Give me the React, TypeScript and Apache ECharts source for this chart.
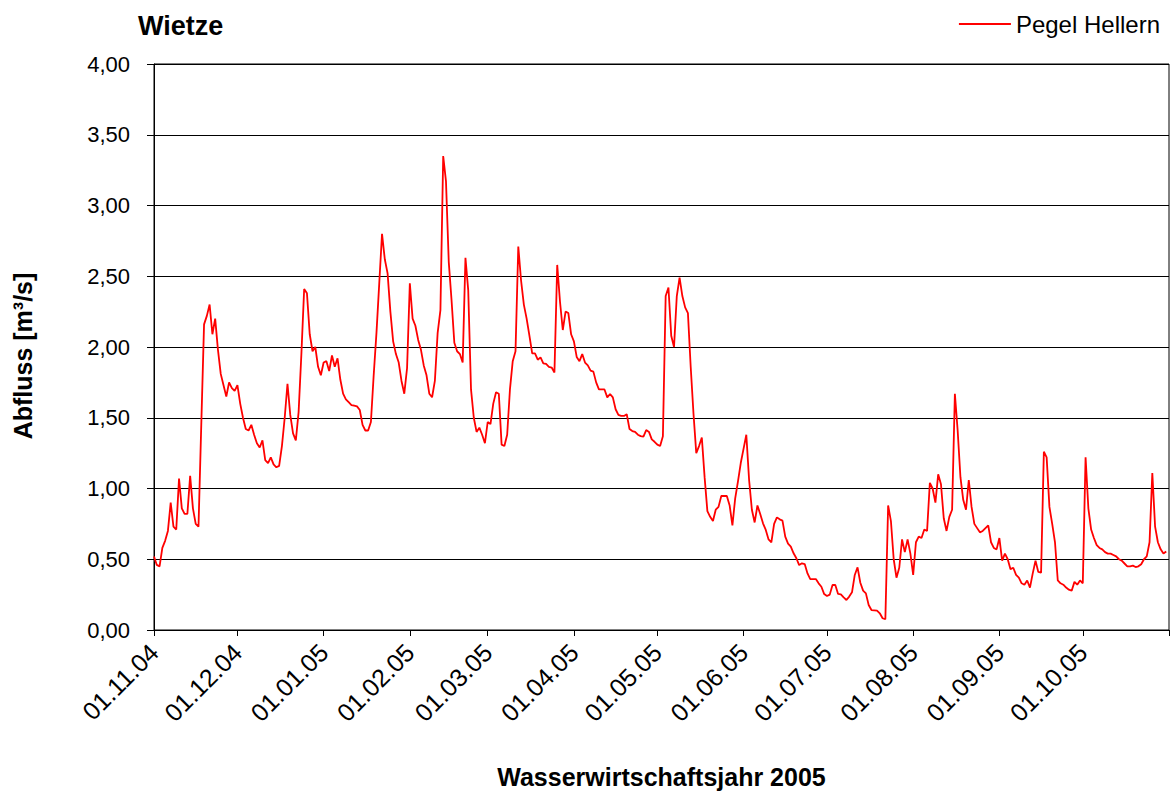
import React, { useEffect, useRef } from "react";
import * as echarts from "echarts";

// Daily discharge values (m³/s), Pegel Hellern, Wasserwirtschaftsjahr 2005
const nov04 = [0.52, 0.46, 0.45, 0.58, 0.63, 0.70, 0.90, 0.73, 0.71, 1.07, 0.86, 0.82, 0.82, 1.09, 0.86, 0.75, 0.73, 1.45, 2.16, 2.22, 2.30, 2.09, 2.20, 1.98, 1.81, 1.73, 1.65, 1.75, 1.71, 1.69];
const dec04 = [1.73, 1.60, 1.50, 1.42, 1.41, 1.45, 1.38, 1.32, 1.29, 1.34, 1.20, 1.18, 1.22, 1.17, 1.15, 1.16, 1.30, 1.50, 1.74, 1.52, 1.39, 1.34, 1.54, 1.95, 2.41, 2.38, 2.09, 1.97, 2.00, 1.86, 1.80];
const jan05 = [1.89, 1.90, 1.83, 1.94, 1.86, 1.92, 1.77, 1.67, 1.63, 1.61, 1.59, 1.585, 1.58, 1.555, 1.45, 1.41, 1.41, 1.47, 1.80, 2.10, 2.45, 2.80, 2.62, 2.52, 2.25, 2.04, 1.95, 1.89, 1.76, 1.67, 1.85];
const feb05 = [2.45, 2.20, 2.15, 2.05, 1.98, 1.87, 1.80, 1.67, 1.645, 1.76, 2.10, 2.26, 3.35, 3.17, 2.60, 2.33, 2.03, 1.97, 1.95, 1.89, 2.63, 2.40, 1.70, 1.50, 1.40, 1.43, 1.38, 1.32];
const mar05 = [1.47, 1.455, 1.60, 1.68, 1.67, 1.31, 1.30, 1.38, 1.70, 1.90, 1.97, 2.71, 2.47, 2.30, 2.20, 2.08, 1.955, 1.955, 1.91, 1.927, 1.885, 1.88, 1.86, 1.855, 1.82, 2.58, 2.32, 2.12, 2.25, 2.24, 2.09];
const apr05 = [2.04, 1.93, 1.90, 1.95, 1.89, 1.87, 1.833, 1.826, 1.75, 1.70, 1.70, 1.70, 1.644, 1.668, 1.644, 1.56, 1.52, 1.513, 1.513, 1.525, 1.42, 1.406, 1.40, 1.38, 1.37, 1.366, 1.413, 1.40, 1.347, 1.33];
const may05 = [1.31, 1.30, 1.37, 2.36, 2.42, 2.08, 2.00, 2.36, 2.49, 2.36, 2.28, 2.24, 1.86, 1.53, 1.25, 1.30, 1.36, 1.08, 0.84, 0.80, 0.77, 0.85, 0.87, 0.947, 0.947, 0.947, 0.88, 0.74, 0.93, 1.05, 1.18];
const jun05 = [1.28, 1.38, 1.06, 0.85, 0.76, 0.88, 0.82, 0.754, 0.707, 0.64, 0.62, 0.75, 0.796, 0.782, 0.773, 0.66, 0.61, 0.589, 0.542, 0.507, 0.459, 0.471, 0.466, 0.40, 0.36, 0.36, 0.36, 0.33, 0.306, 0.254];
const jul05 = [0.24, 0.25, 0.318, 0.318, 0.255, 0.252, 0.23, 0.212, 0.236, 0.266, 0.389, 0.443, 0.334, 0.278, 0.259, 0.177, 0.141, 0.139, 0.137, 0.118, 0.083, 0.076, 0.88, 0.77, 0.50, 0.37, 0.44, 0.64, 0.55, 0.64, 0.54];
const aug05 = [0.39, 0.62, 0.66, 0.65, 0.71, 0.70, 1.04, 1.00, 0.90, 1.10, 1.03, 0.79, 0.70, 0.80, 0.85, 1.67, 1.41, 1.08, 0.92, 0.85, 1.06, 0.87, 0.75, 0.72, 0.69, 0.70, 0.72, 0.74, 0.62, 0.58, 0.57];
const sep05 = [0.65, 0.49, 0.54, 0.50, 0.43, 0.44, 0.39, 0.37, 0.33, 0.32, 0.35, 0.30, 0.40, 0.49, 0.41, 0.405, 1.26, 1.22, 0.87, 0.75, 0.62, 0.35, 0.33, 0.32, 0.30, 0.285, 0.278, 0.34, 0.32, 0.35];
const oct05 = [0.33, 1.22, 0.86, 0.71, 0.65, 0.60, 0.58, 0.57, 0.55, 0.54, 0.54, 0.53, 0.52, 0.50, 0.49, 0.47, 0.45, 0.45, 0.455, 0.445, 0.45, 0.465, 0.50, 0.52, 0.62, 1.11, 0.73, 0.62, 0.57, 0.54, 0.555];

const seriesName = "Pegel Hellern";
const chartTitle = "Wietze";
const xAxisName = "Wasserwirtschaftsjahr 2005";
const yAxisName = "Abfluss [m³/s]";
const startDate = Date.UTC(2004, 10, 1);
const dayCount = 366; // 01.11.04 .. 01.11.05 (axis end)

const pad = (n: number) => (n < 10 ? "0" + n : String(n));
const categories: string[] = [];
for (let i = 0; i < dayCount; i++) {
  const d = new Date(startDate + i * 86400000);
  categories.push(pad(d.getUTCDate()) + "." + pad(d.getUTCMonth() + 1) + "." + String(d.getUTCFullYear()).slice(2));
}
const values = [...nov04, ...dec04, ...jan05, ...feb05, ...mar05, ...apr05, ...may05, ...jun05, ...jul05, ...aug05, ...sep05, ...oct05];

const FONT = "'Liberation Sans', Arial, sans-serif";

export default function App() {
  const ref = useRef<HTMLDivElement>(null);
  useEffect(() => {
    if (!ref.current) return;
    const chart = echarts.init(ref.current, undefined, { renderer: "svg" });
    chart.setOption({
      animation: false,
      backgroundColor: "#ffffff",
      textStyle: { fontFamily: FONT },
      title: {
        text: chartTitle,
        left: 133,
        top: 7,
        textStyle: { fontFamily: FONT, fontSize: 27, fontWeight: "bold", color: "#000" },
      },
      legend: {
        data: [seriesName],
        right: 7,
        top: 7,
        icon: "rect",
        itemWidth: 52,
        itemHeight: 2,
        itemGap: 5,
        textStyle: { fontFamily: FONT, fontSize: 24, color: "#000" },
      },
      graphic: [
        {
          type: "text",
          x: 23,
          y: 356,
          rotation: Math.PI / 2,
          style: {
            text: yAxisName,
            fontFamily: FONT,
            fontSize: 25,
            fontWeight: "bold",
            fill: "#000",
            align: "center",
            verticalAlign: "middle",
          },
        },
      ],
      grid: {
        left: 154,
        top: 64,
        width: 1015,
        height: 566,
        outerBoundsMode: "none",
        containLabel: false,
        show: true,
        borderColor: "#000",
        borderWidth: 1,
        backgroundColor: "transparent",
      },
      xAxis: {
        type: "category",
        data: categories,
        boundaryGap: false,
        name: xAxisName,
        nameLocation: "middle",
        nameGap: 134,
        nameTextStyle: { fontFamily: FONT, fontSize: 25, fontWeight: "bold", color: "#000" },
        axisLine: { show: true, lineStyle: { color: "#000", width: 1 } },
        axisTick: {
          show: true,
          length: 6,
          interval: (i: number, v: string) => v.startsWith("01."),
          lineStyle: { color: "#000" },
        },
        axisLabel: {
          interval: (i: number, v: string) => v.startsWith("01.") && i < dayCount - 1,
          rotate: 45,
          margin: 18,
          fontFamily: FONT,
          fontSize: 25,
          color: "#000",
        },
        splitLine: { show: false },
      },
      yAxis: {
        type: "value",
        min: 0,
        max: 4,
        interval: 0.5,
        axisLine: { show: true, lineStyle: { color: "#000", width: 1 } },
        axisTick: { show: true, length: 7, lineStyle: { color: "#000" } },
        axisLabel: {
          margin: 24,
          fontFamily: FONT,
          fontSize: 22,
          color: "#000",
          formatter: (v: number) => v.toFixed(2).replace(".", ","),
        },
        splitLine: { show: true, lineStyle: { color: "#000", width: 1 } },
      },
      series: [
        {
          name: seriesName,
          type: "line",
          data: values,
          symbol: "none",
          lineStyle: { color: "#ff0000", width: 1.8 },
          itemStyle: { color: "#ff0000" },
        },
      ],
    });
    return () => chart.dispose();
  }, []);
  return <div ref={ref} style={{ position: "fixed", left: 0, top: 0, width: 1172, height: 793 }} />;
}
